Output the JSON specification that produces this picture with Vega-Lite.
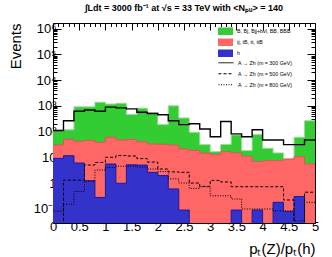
{
  "$schema": "https://vega.github.io/schema/vega-lite/v6.json",
  "width": 262,
  "height": 200,
  "autosize": {"type": "none"},
  "padding": {"left": 53, "top": 23, "right": 17, "bottom": 34},
  "background": "white",
  "title": {"text": "∫Ldt = 3000 fb⁻¹ at √s = 33 TeV with <Nₚᵤ> = 140", "font": "Liberation Sans", "fontSize": 9, "fontWeight": "bold", "anchor": "middle", "offset": 10, "color": "black"},
  "datasets": {
    "hist": [
      {"x": 0.0, "tot": 112, "tt": 30, "h": 9.1, "m300": 110, "m500": 0.001, "m800": 0.08},
      {"x": 0.2, "tot": 117, "tt": 50, "h": 11.5, "m300": 263, "m500": 1.3, "m800": 0.15},
      {"x": 0.4, "tot": 910, "tt": 42, "h": 6.0, "m300": 617, "m500": 1.3, "m800": 0.47},
      {"x": 0.6, "tot": 910, "tt": 45, "h": 1.23, "m300": 692, "m500": 5.0, "m800": 1.17},
      {"x": 0.8, "tot": 1380, "tt": 38, "h": 0.275, "m300": 617, "m500": 6.3, "m800": 3.2},
      {"x": 1.0, "tot": 1175, "tt": 60, "h": 5.5, "m300": 891, "m500": 10, "m800": 4.0},
      {"x": 1.2, "tot": 1260, "tt": 47, "h": 0.98, "m300": 832, "m500": 11.7, "m800": 4.5},
      {"x": 1.4, "tot": 457, "tt": 49, "h": 5.1, "m300": 759, "m500": 11.2, "m800": 4.5},
      {"x": 1.6, "tot": 813, "tt": 40, "h": 5.0, "m300": 562, "m500": 8.9, "m800": 4.2},
      {"x": 1.8, "tot": 537, "tt": 33, "h": 2.6, "m300": 500, "m500": 6.5, "m800": 3.5},
      {"x": 2.0, "tot": 186, "tt": 32, "h": 1.95, "m300": 447, "m500": 3.5, "m800": 2.8},
      {"x": 2.2, "tot": 1000, "tt": 30, "h": 0.59, "m300": 263, "m500": 2.7, "m800": 1.45},
      {"x": 2.4, "tot": 339, "tt": 21, "h": 0.089, "m300": 186, "m500": 2.6, "m800": 1.0},
      {"x": 2.6, "tot": 93, "tt": 18.6, "h": 0.001, "m300": 200, "m500": 1.0, "m800": 0.62},
      {"x": 2.8, "tot": 31, "tt": 14.5, "h": 0.001, "m300": 126, "m500": 0.74, "m800": 0.72},
      {"x": 3.0, "tot": 16.6, "tt": 12.9, "h": 0.001, "m300": 63, "m500": 1.26, "m800": 0.32},
      {"x": 3.2, "tot": 31.6, "tt": 16.6, "h": 0.001, "m300": 245, "m500": 1.1, "m800": 0.32},
      {"x": 3.4, "tot": 74, "tt": 14.8, "h": 0.089, "m300": 81, "m500": 0.72, "m800": 0.24},
      {"x": 3.6, "tot": 18.2, "tt": 11, "h": 0.001, "m300": 63, "m500": 0.72, "m800": 0.098},
      {"x": 3.8, "tot": 76, "tt": 6.9, "h": 0.089, "m300": 117, "m500": 0.72, "m800": 0.098},
      {"x": 4.0, "tot": 22.4, "tt": 7.4, "h": 0.001, "m300": 47, "m500": 0.72, "m800": 0.098},
      {"x": 4.2, "tot": 14.8, "tt": 7.4, "h": 0.178, "m300": 47, "m500": 0.72, "m800": 0.083},
      {"x": 4.4, "tot": 8.6, "tt": 8.5, "h": 0.079, "m300": 31, "m500": 0.22, "m800": 0.083},
      {"x": 4.6, "tot": 60, "tt": 10.5, "h": 0.30, "m300": 31, "m500": 0.01, "m800": 0.034},
      {"x": 4.8, "tot": 263, "tt": 5.5, "h": 0.001, "m300": 47, "m500": 0.44, "m800": 0.178},
      {"x": 5.0, "tot": 263, "tt": 5.5, "h": 0.001, "m300": 47, "m500": 0.44, "m800": 0.178}
    ]
  },
  "data": {"name": "hist"},
  "resolve": {"axis": {"x": "independent", "y": "independent"}},
  "config": {
    "view": {"stroke": "black", "strokeWidth": 1},
    "axis": {"domain": false, "grid": false, "tickColor": "black", "labelColor": "black", "titleColor": "black", "labelFont": "Liberation Sans", "titleFont": "Liberation Sans", "titleFontWeight": "normal", "labelFontSize": 13, "titleFontSize": 14, "tickWidth": 1}
  },
  "layer": [
    {
      "mark": {"type": "area", "interpolate": "step-after", "clip": true},
      "encoding": {
        "x": {"field": "x", "type": "quantitative", "scale": {"domain": [0, 5], "nice": false, "zero": false},
          "axis": {"orient": "bottom", "values": [0,0.1,0.2,0.3,0.4,0.5,0.6,0.7,0.8,0.9,1,1.1,1.2,1.3,1.4,1.5,1.6,1.7,1.8,1.9,2,2.1,2.2,2.3,2.4,2.5,2.6,2.7,2.8,2.9,3,3.1,3.2,3.3,3.4,3.5,3.6,3.7,3.8,3.9,4,4.1,4.2,4.3,4.4,4.5,4.6,4.7,4.8,4.9,5],
            "labelExpr": "abs(datum.value*2 - round(datum.value*2)) < 0.001 ? format(datum.value, '~g') : ''",
            "tickSize": {"condition": {"test": "abs(datum.value*2 - round(datum.value*2)) < 0.001", "value": -7}, "value": -3.5},
            "labelPadding": 4, "labelFlush": false, "labelOverlap": false,
            "title": "pₜ(Z)/pₜ(h)", "titleAnchor": "end", "titleAlign": "right", "titleX": 262, "titleY": 30, "titleBaseline": "alphabetic", "titleFontSize": 15}},
        "y": {"field": "tot", "type": "quantitative", "stack": null, "scale": {"type": "log", "domain": [0.028, 1650000], "nice": false},
          "axis": {"orient": "left", "values": [0.03,0.04,0.05,0.06,0.07,0.08,0.09,0.1,0.2,0.3,0.4,0.5,0.6,0.7,0.8,0.9,1,2,3,4,5,6,7,8,9,10,20,30,40,50,60,70,80,90,100,200,300,400,500,600,700,800,900,1000,2000,3000,4000,5000,6000,7000,8000,9000,10000,20000,30000,40000,50000,60000,70000,80000,90000,100000,200000,300000,400000,500000,600000,700000,800000,900000,1000000],
            "labelExpr": "abs(log(datum.value)/LN10 - round(log(datum.value)/LN10)) < 0.001 ? ['10⁻¹','1','10','10²','10³','10⁴','10⁵','10⁶'][round(log(datum.value)/LN10)+1] : ''",
            "tickSize": {"condition": {"test": "abs(log(datum.value)/LN10 - round(log(datum.value)/LN10)) < 0.001", "value": -8}, "value": -4},
            "labelPadding": 5, "labelOverlap": false,
            "title": "Events", "titleAngle": 270, "titleAlign": "right", "titleBaseline": "alphabetic", "titleX": -33, "titleY": 0, "titleFontSize": 15}},
        "fill": {"datum": "B, Bj, Bjj+bvl, BB, BBB", "type": "nominal",
          "scale": {"domain": ["B, Bj, Bjj+bvl, BB, BBB", "tj, tB, tt, ttB", "h"], "range": ["#33cc33", "#ff6666", "#3333cc"]},
          "legend": {"orient": "none", "legendX": 165, "legendY": 3, "title": null, "padding": 0, "symbolType": "M-1,-0.5H1V0.5H-1Z", "symbolSize": 225, "symbolStrokeWidth": 0, "symbolOpacity": 1, "labelFont": "Liberation Sans", "labelFontSize": 5.3, "labelColor": "black", "labelOffset": 4, "clipHeight": 10.5, "rowPadding": 0}}
      }
    },
    {
      "mark": {"type": "line", "interpolate": "step-after", "clip": true, "color": "#9fd89f", "strokeWidth": 1},
      "encoding": {
        "x": {"field": "x", "type": "quantitative", "axis": null},
        "y": {"field": "tot", "type": "quantitative", "axis": null}
      }
    },
    {
      "mark": {"type": "area", "interpolate": "step-after", "clip": true},
      "encoding": {
        "x": {"field": "x", "type": "quantitative", "axis": null},
        "y": {"field": "tt", "type": "quantitative", "stack": null, "axis": null},
        "fill": {"datum": "tj, tB, tt, ttB", "type": "nominal"}
      }
    },
    {
      "mark": {"type": "line", "interpolate": "step-after", "clip": true, "color": "#e85252", "strokeWidth": 1},
      "encoding": {
        "x": {"field": "x", "type": "quantitative", "axis": null},
        "y": {"field": "tt", "type": "quantitative", "axis": null}
      }
    },
    {
      "mark": {"type": "area", "interpolate": "step-after", "clip": true},
      "encoding": {
        "x": {"field": "x", "type": "quantitative", "axis": null},
        "y": {"field": "h", "type": "quantitative", "stack": null, "axis": null},
        "fill": {"datum": "h", "type": "nominal"}
      }
    },
    {
      "mark": {"type": "line", "interpolate": "step-after", "clip": true, "color": "#1a1aa0", "strokeWidth": 1},
      "encoding": {
        "x": {"field": "x", "type": "quantitative", "axis": null},
        "y": {"field": "h", "type": "quantitative", "axis": null}
      }
    },
    {
      "mark": {"type": "line", "interpolate": "step-after", "clip": true, "color": "black", "strokeWidth": 1.4},
      "encoding": {
        "x": {"field": "x", "type": "quantitative", "axis": null},
        "y": {"field": "m300", "type": "quantitative", "axis": null},
        "strokeDash": {"datum": "A → Zh (m = 300 GeV)", "type": "nominal",
          "scale": {"domain": ["A → Zh (m = 300 GeV)", "A → Zh (m = 500 GeV)", "A → Zh (m = 800 GeV)"], "range": [[1, 0], [3, 2], [1, 1.5]]},
          "legend": {"orient": "none", "legendX": 165, "legendY": 34.5, "title": null, "padding": 0, "symbolType": "stroke", "symbolSize": 225, "symbolStrokeColor": "black", "symbolStrokeWidth": 1, "labelFont": "Liberation Sans", "labelFontSize": 5.3, "labelColor": "black", "labelOffset": 4, "clipHeight": 10.5, "rowPadding": 0}}
      }
    },
    {
      "mark": {"type": "line", "interpolate": "step-after", "clip": true, "color": "black", "strokeWidth": 1},
      "encoding": {
        "x": {"field": "x", "type": "quantitative", "axis": null},
        "y": {"field": "m500", "type": "quantitative", "axis": null},
        "strokeDash": {"datum": "A → Zh (m = 500 GeV)", "type": "nominal"}
      }
    },
    {
      "mark": {"type": "line", "interpolate": "step-after", "clip": true, "color": "black", "strokeWidth": 1},
      "encoding": {
        "x": {"field": "x", "type": "quantitative",
          "axis": {"orient": "top", "values": [0,0.1,0.2,0.3,0.4,0.5,0.6,0.7,0.8,0.9,1,1.1,1.2,1.3,1.4,1.5,1.6,1.7,1.8,1.9,2,2.1,2.2,2.3,2.4,2.5,2.6,2.7,2.8,2.9,3,3.1,3.2,3.3,3.4,3.5,3.6,3.7,3.8,3.9,4,4.1,4.2,4.3,4.4,4.5,4.6,4.7,4.8,4.9,5],
            "labels": false, "title": null,
            "tickSize": {"condition": {"test": "abs(datum.value*2 - round(datum.value*2)) < 0.001", "value": -7}, "value": -3.5}}},
        "y": {"field": "m800", "type": "quantitative",
          "axis": {"orient": "right", "values": [0.03,0.04,0.05,0.06,0.07,0.08,0.09,0.1,0.2,0.3,0.4,0.5,0.6,0.7,0.8,0.9,1,2,3,4,5,6,7,8,9,10,20,30,40,50,60,70,80,90,100,200,300,400,500,600,700,800,900,1000,2000,3000,4000,5000,6000,7000,8000,9000,10000,20000,30000,40000,50000,60000,70000,80000,90000,100000,200000,300000,400000,500000,600000,700000,800000,900000,1000000],
            "labels": false, "title": null,
            "tickSize": {"condition": {"test": "abs(log(datum.value)/LN10 - round(log(datum.value)/LN10)) < 0.001", "value": -8}, "value": -4}}},
        "strokeDash": {"datum": "A → Zh (m = 800 GeV)", "type": "nominal"}
      }
    }
  ]
}
